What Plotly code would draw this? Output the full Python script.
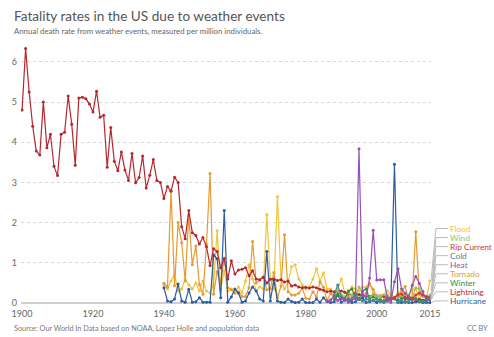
import plotly.graph_objects as go

# ---------------- data ----------------
years_lightning = list(range(1900, 2016))
lightning = [
    4.80, 6.33, 5.25, 4.40, 3.78, 3.68, 5.00, 3.86, 4.20, 3.40,
    3.17, 4.20, 4.25, 5.15, 4.45, 3.43, 5.10, 5.12, 5.08, 4.95,
    4.75, 5.27, 4.62, 4.67, 3.38, 4.37, 3.53, 3.29, 3.76, 3.31,
    3.05, 3.72, 2.99, 3.12, 3.66, 2.86, 3.18, 3.57, 3.05, 3.00,
    2.60, 2.90, 2.78, 3.13, 3.00, 1.90, 1.60, 2.30, 1.75, 1.68,
    1.47, 1.63, 1.40, 0.93, 1.35, 1.28, 0.88, 1.10, 0.60, 1.05,
    0.72, 0.82, 0.84, 0.88, 0.68, 0.80, 0.60, 0.58, 0.64, 0.50,
    0.59, 0.60, 0.56, 0.58, 0.52, 0.55, 0.42, 0.45, 0.40, 0.38,
    0.39, 0.37, 0.40, 0.38, 0.34, 0.32, 0.28, 0.30, 0.28, 0.26,
    0.30, 0.27, 0.22, 0.20, 0.24, 0.21, 0.19, 0.17, 0.16, 0.20,
    0.18, 0.15, 0.18, 0.14, 0.11, 0.13, 0.16, 0.15, 0.10, 0.11,
    0.09, 0.08, 0.09, 0.07, 0.08, 0.08,
]

years_1940 = list(range(1940, 2016))
tornado = [
    0.49, 0.40, 2.80, 0.43, 2.00, 1.50, 0.55, 2.17, 0.95, 1.42,
    0.46, 0.22, 1.46, 3.22, 0.22, 0.78, 0.49, 1.12, 0.38, 0.33,
    0.25, 0.28, 0.16, 0.16, 0.38, 1.53, 0.50, 0.57, 0.65, 0.33,
    0.36, 0.76, 0.13, 0.42, 1.70, 0.28, 0.20, 0.20, 0.24, 0.37,
    0.12, 0.10, 0.28, 0.15, 0.52, 0.39, 0.06, 0.24, 0.13, 0.20,
    0.21, 0.15, 0.15, 0.13, 0.26, 0.11, 0.10, 0.25, 0.47, 0.34,
    0.15, 0.14, 0.19, 0.19, 0.12, 0.13, 0.22, 0.27, 0.41, 0.07,
    0.15, 1.77, 0.22, 0.17, 0.15, 0.11,
]
flood = [
    0.45, 0.35, 0.55, 0.70, 0.30, 0.35, 0.60, 0.45, 0.35, 0.50,
    0.30, 0.55, 0.30, 0.25, 0.45, 1.80, 0.35, 0.80, 0.30, 0.35,
    0.25, 0.40, 0.25, 0.55, 0.95, 0.60, 0.30, 0.40, 0.35, 2.20,
    0.60, 0.35, 2.65, 0.60, 0.35, 0.50, 0.90, 0.95, 0.60, 0.45,
    0.35, 0.40, 0.60, 0.85, 0.55, 0.75, 0.35, 0.35, 0.15, 0.35,
    0.60, 0.25, 0.25, 0.40, 0.35, 0.30, 0.40, 0.40, 0.50, 0.25,
    0.15, 0.20, 0.20, 0.30, 0.20, 0.15, 0.25, 0.30, 0.20, 0.18,
    0.33, 0.35, 0.10, 0.25, 0.10, 0.55,
]
hurricane = [
    0.38, 0.05, 0.03, 0.10, 0.47, 0.05, 0.02, 0.34, 0.02, 0.03,
    0.13, 0.02, 0.02, 0.02, 1.20, 1.10, 0.13, 2.30, 0.02, 0.15,
    0.35, 0.25, 0.02, 0.05, 0.25, 0.40, 0.30, 0.10, 0.05, 1.28,
    0.05, 0.57, 0.05, 0.02, 0.01, 0.10, 0.04, 0.01, 0.02, 0.10,
    0.01, 0.01, 0.01, 0.10, 0.02, 0.13, 0.04, 0.01, 0.03, 0.20,
    0.02, 0.07, 0.10, 0.01, 0.03, 0.11, 0.13, 0.01, 0.03, 0.07,
    0.01, 0.08, 0.02, 0.05, 0.10, 3.45, 0.01, 0.01, 0.04, 0.01,
    0.01, 0.03, 0.04, 0.01, 0.01, 0.01,
]

years_1986 = list(range(1986, 2016))
heat = [
    0.05, 0.08, 0.17, 0.06, 0.10, 0.10, 0.02, 0.08, 0.11, 3.84,
    0.20, 0.15, 0.62, 1.81, 0.57, 0.58, 0.58, 0.12, 0.02, 0.53,
    0.85, 0.35, 0.24, 0.15, 0.44, 0.66, 0.49, 0.29, 0.06, 0.14,
]
years_1988 = list(range(1988, 2016))
cold = [
    0.20, 0.45, 0.15, 0.10, 0.08, 0.10, 0.22, 0.08, 0.05, 0.10,
    0.05, 0.06, 0.10, 0.03, 0.03, 0.07, 0.10, 0.10, 0.02, 0.06,
    0.01, 0.03, 0.11, 0.10, 0.05, 0.03, 0.04, 0.09,
]
winter = [
    0.10, 0.20, 0.15, 0.10, 0.30, 0.35, 0.12, 0.10, 0.30, 0.35,
    0.10, 0.15, 0.10, 0.06, 0.06, 0.12, 0.09, 0.12, 0.06, 0.11,
    0.12, 0.10, 0.10, 0.12, 0.03, 0.05, 0.10, 0.11,
]
wind = [
    0.15, 0.30, 0.20, 0.15, 0.25, 0.20, 0.15, 0.40, 0.25, 0.20,
    0.15, 0.20, 0.17, 0.15, 0.20, 0.14, 0.10, 0.11, 0.16, 0.14,
    0.22, 0.20, 0.12, 0.38, 0.35, 0.17, 0.12, 0.20,
]
years_2002 = list(range(2002, 2016))
rip_current = [
    0.15, 0.10, 0.11, 0.13, 0.20, 0.22, 0.14, 0.15, 0.10, 0.20,
    0.25, 0.20, 0.16, 0.15,
]

x_ticks = [1900, 1920, 1940, 1960, 1980, 2000, 2015]
y_ticks = [0, 1, 2, 3, 4, 5, 6]

# legend order top -> bottom
legend_names = ["Flood", "Wind", "Rip Current", "Cold", "Heat",
                "Tornado", "Winter", "Lightning", "Hurricane"]

series = {
    "Hurricane": (years_1940, hurricane, "#2d5c9e"),
    "Lightning": (years_lightning, lightning, "#b7282e"),
    "Winter": (years_1988, winter, "#3a8a3f"),
    "Tornado": (years_1940, tornado, "#e69a32"),
    "Heat": (years_1986, heat, "#9a4fb4"),
    "Cold": (years_1988, cold, "#3f8a96"),
    "Rip Current": (years_2002, rip_current, "#cc3a30"),
    "Wind": (years_1988, wind, "#97c35c"),
    "Flood": (years_1940, flood, "#f2c43c"),
}

# ---------------- figure ----------------
W, H = 494, 337
ML, MR, MT, MB = 14, 63, 45, 32
plot_w = W - ML - MR
plot_h = H - MT - MB
y_range = [-0.05, 6.42]
x_range = [1899.7, 2015.3]

fig = go.Figure()
for name in ["Flood", "Tornado", "Hurricane", "Lightning", "Wind",
             "Winter", "Cold", "Rip Current", "Heat"]:
    xs, ys, col = series[name]
    fig.add_trace(go.Scatter(
        x=xs, y=ys, name=name, mode="lines+markers",
        line=dict(color=col, width=1.2),
        marker=dict(color=col, size=3),
        hoverinfo="x+y+name", showlegend=False,
    ))


def px_to_paper(p):
    return (p - ML) / plot_w


def py_to_paper(py):
    return (MT + plot_h - py) / plot_h


def py_to_val(py):
    return y_range[0] + (MT + plot_h - py) / plot_h * (y_range[1] - y_range[0])


# connector lines + labels
label_top_py, label_step = 228.5, 9.05
for i, name in enumerate(legend_names):
    xs, ys, col = series[name]
    ly = py_to_val(label_top_py + i * label_step)
    fig.add_shape(type="path", xref="paper", yref="y",
                  path=f"M {px_to_paper(431)},{ys[-1]} L {px_to_paper(436)},{ly} L {px_to_paper(448)},{ly}",
                  line=dict(color="#bbbbbb", width=1))
    fig.add_annotation(x=px_to_paper(449), y=ly, xref="paper", yref="y",
                       text=name, showarrow=False, xanchor="left", yanchor="middle",
                       borderpad=0, height=9,
                       font=dict(family="Lato", size=8.3, color=col))

fig.update_layout(
    width=W, height=H,
    margin=dict(l=ML, r=MR, t=MT, b=MB),
    paper_bgcolor="white", plot_bgcolor="white",
    font=dict(family="Lato", color="#666"),
    xaxis=dict(range=x_range, tickvals=x_ticks, ticktext=[str(t) for t in x_ticks],
               showgrid=False, zeroline=False, showline=False, ticks="",
               tickfont=dict(size=9, color="#666"), ticklabelstandoff=2,
               fixedrange=True),
    yaxis=dict(range=y_range, tickvals=y_ticks, showgrid=True,
               gridcolor="#d8d8d8", griddash="dot", gridwidth=1,
               zeroline=True, zerolinecolor="#cfcfcf", zerolinewidth=1.5,
               showline=False, ticks="", tickfont=dict(size=9, color="#666"),
               ticklabelstandoff=3, fixedrange=True),
)

fig.add_annotation(text="Fatality rates in the US due to weather events",
                   xref="paper", yref="paper", x=px_to_paper(6), y=py_to_paper(7),
                   xanchor="left", yanchor="top", showarrow=False, borderpad=0,
                   font=dict(family="Lato", size=13.6, color="#555"))
fig.add_annotation(text="Annual death rate from weather events, measured per million individuals.",
                   xref="paper", yref="paper", x=px_to_paper(6), y=py_to_paper(25),
                   xanchor="left", yanchor="top", showarrow=False, borderpad=0,
                   font=dict(family="Lato", size=7.8, color="#666"))
fig.add_annotation(text="Source: Our World In Data based on NOAA, Lopez Holle and population data",
                   xref="paper", yref="paper", x=px_to_paper(6), y=py_to_paper(323),
                   xanchor="left", yanchor="top", showarrow=False, borderpad=0,
                   font=dict(family="Lato", size=7.3, color="#777"))
fig.add_annotation(text="CC BY",
                   xref="paper", yref="paper", x=px_to_paper(490), y=py_to_paper(323),
                   xanchor="right", yanchor="top", showarrow=False, borderpad=0,
                   font=dict(family="Lato", size=7.3, color="#777"))

fig.write_html("out.html")
